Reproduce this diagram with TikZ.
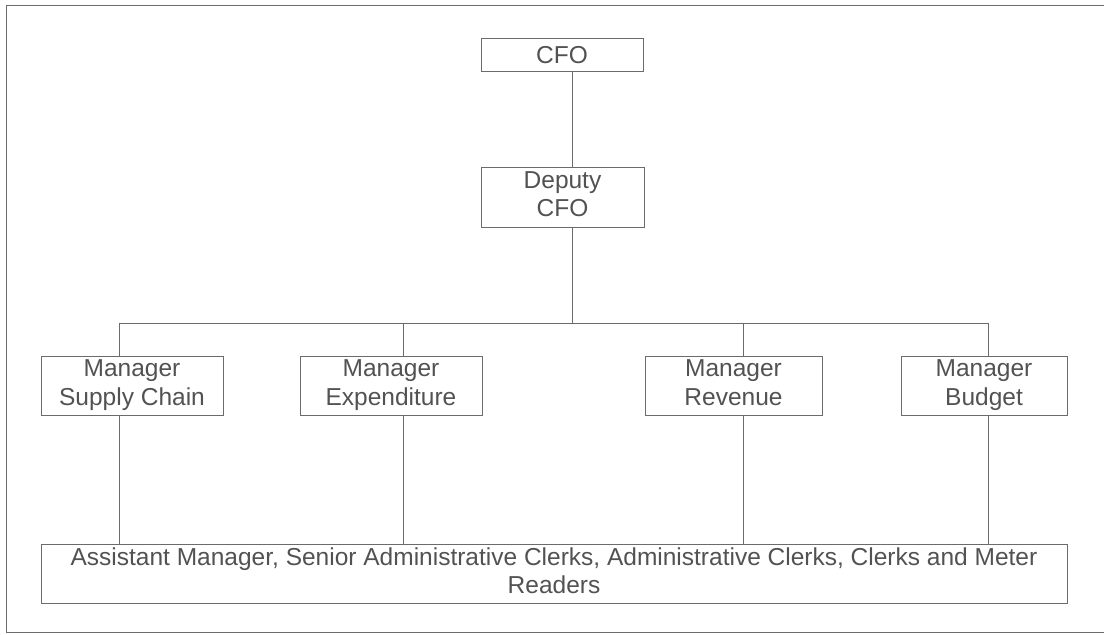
\documentclass[tikz,border=0pt]{standalone}
\usepackage{fontspec}
\setmainfont{Liberation Sans}
\newcommand{\topprop}{\rule{0pt}{23.6pt}}
\newcommand{\botprop}{\rule[-6pt]{0pt}{6pt}}
\begin{document}
\begin{tikzpicture}[x=1pt,y=-1pt,
  line width=0.9pt,
  rule/.style={draw=black!58},
  post/.style={rule, rectangle, inner sep=0pt, text=black!68, align=center,
    font=\fontsize{24.5}{28.2}\selectfont,
    execute at begin node=\topprop, execute at end node=\botprop},
]
% page and outer frame
\useasboundingbox (0,0) rectangle (1104,635);
\draw[rule] (1110,5) -- (6,5) -- (6,632) -- (1110,632);

% positions
\node[post, minimum width=162pt, minimum height=33pt] (cfo) at (562,55) {CFO};
\node[post, minimum width=163pt, minimum height=60pt] (dep) at (562.5,197) {Deputy\\CFO};

\node[post, minimum width=182pt, minimum height=59pt] (sc)  at (132,385.5) {Manager\\Supply Chain};
\node[post, minimum width=182pt, minimum height=59pt] (exp) at (391,385.5) {Manager\\Expenditure};
\node[post, minimum width=177pt, minimum height=59pt] (rev) at (733.5,385.5) {Manager\\Revenue};
\node[post, minimum width=166pt, minimum height=59pt] (bud) at (984,385.5) {Manager\\Budget};

\node[post, minimum width=1026pt, minimum height=59pt] (staff) at (554,573.5)
  {Assistant Manager, Senior Administrative Clerks, Administrative Clerks, Clerks and Meter\\Readers};

% bus line and its drop points
\coordinate (hub) at (572,323);
\coordinate (d1) at (119,323);
\coordinate (d2) at (403,323);
\coordinate (d3) at (743,323);
\coordinate (d4) at (988,323);

% connectors
\draw[rule] ([xshift=10pt]cfo.south) -- ([xshift=9.5pt]dep.north);
\draw[rule] ([xshift=9.5pt]dep.south) -- (hub);
\draw[rule] (d1) -- (d4);
\foreach \d/\m in {d1/sc, d2/exp, d3/rev, d4/bud}{
  \draw[rule] (\d) -- (\d |- \m.north);
  \draw[rule] (\m.south -| \d) -- (\d |- staff.north);
}
\end{tikzpicture}
\end{document}
